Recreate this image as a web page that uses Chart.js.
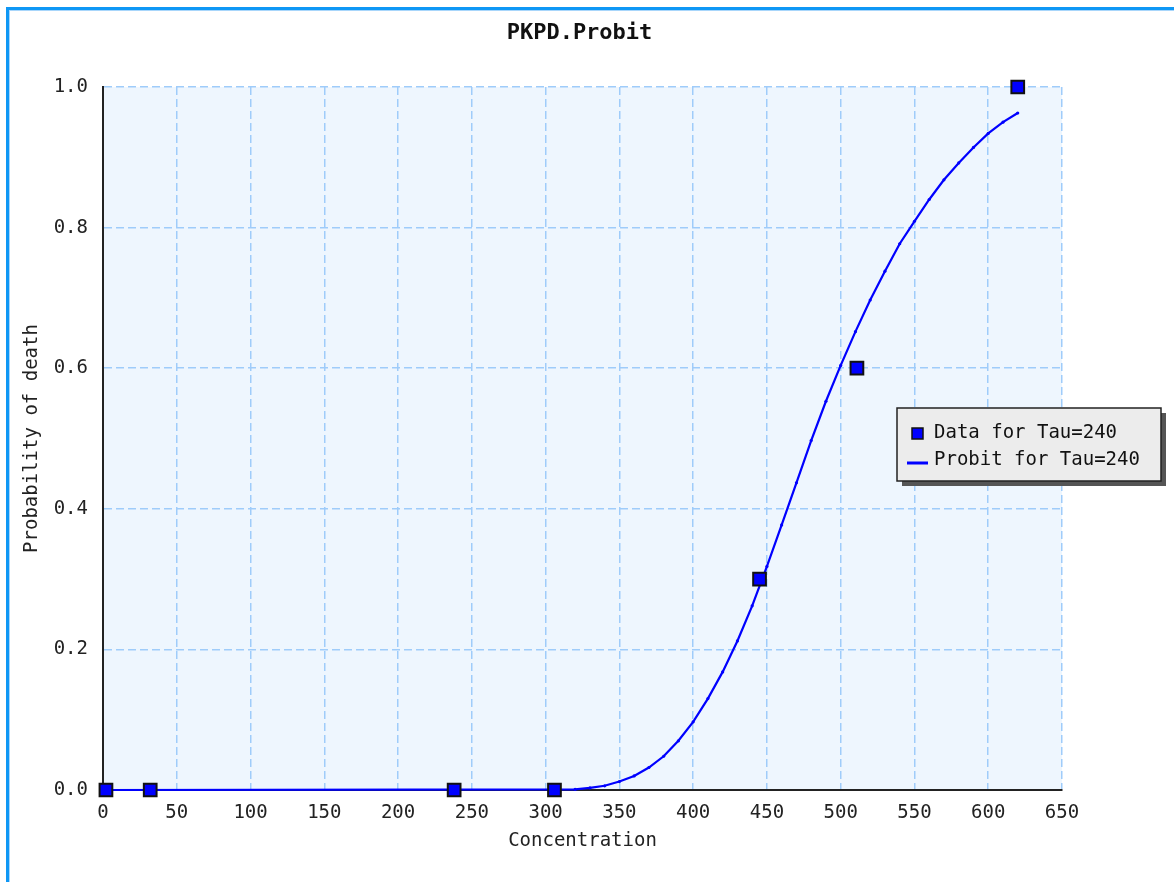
<!DOCTYPE html>
<html>
<head>
<meta charset="utf-8">
<script src="https://cdn.jsdelivr.net/npm/chart.js@4/dist/chart.umd.min.js"></script>
<style>
  html, body { margin: 0; padding: 0; background: #fff; overflow: hidden; }
  #wrap { position: absolute; left: 0; top: 0; width: 1174px; height: 882px; }
  #frame {
    position: absolute; left: 6px; top: 7px; width: 1300px; height: 1000px;
    border-left: 3px solid #0f97f5; border-top: 3px solid #0f97f5;
    box-shadow: inset 1px 1px 0 #a8d6fb;
  }
  canvas { position: absolute; left: 0; top: 0; }
</style>
</head>
<body>
<div id="wrap">
  <div id="frame"></div>
  <canvas id="chart" width="1174" height="882"></canvas>
</div>
<script>
const chartTitle = "PKPD.Probit";
const xTitle = "Concentration";
const yTitle = "Probability of death";

// observed data points
const dataLabel = "Data for Tau=240";
const dataConc = [2, 32, 238, 306, 445, 511, 620];
const dataProb = [0, 0, 0, 0, 0.3, 0.6, 1.0];

// fitted probit curve
const curveLabel = "Probit for Tau=240";
const curveConc = [0, 320, 330, 340, 350, 360, 370, 380, 390, 400, 410, 420, 430, 440, 450, 460,
  470, 480, 490, 500, 510, 520, 530, 540, 550, 560, 570, 580, 590, 600, 610, 620];
const curveProb = [0, 0.001, 0.003, 0.006, 0.012, 0.020, 0.032, 0.048, 0.070, 0.097, 0.130, 0.168,
  0.212, 0.262, 0.318, 0.377, 0.437, 0.497, 0.553, 0.604, 0.652, 0.697, 0.738, 0.777, 0.809, 0.840,
  0.868, 0.892, 0.914, 0.934, 0.950, 0.963];

const xTicks = { min: 0, max: 650, step: 50 };
const yTicks = { min: 0, max: 1, step: 0.2 };

const FONT = '"DejaVu Sans Mono", monospace';
const BLUE = "#0000ff";
const GRID = "#9fccfa";

const plotBackground = {
  id: "plotBackground",
  beforeDraw(chart) {
    const { ctx, chartArea: a } = chart;
    ctx.save();
    ctx.fillStyle = "#eef6fe";
    ctx.fillRect(a.left, a.top, a.right - a.left, a.bottom - a.top);
    ctx.restore();
  }
};

const titleAndLegend = {
  id: "titleAndLegend",
  afterDraw(chart) {
    const { ctx, chartArea: a } = chart;
    ctx.save();
    // title
    ctx.font = "bold 22px " + FONT;
    ctx.fillStyle = "#111";
    ctx.textAlign = "center";
    ctx.textBaseline = "middle";
    ctx.fillText(chartTitle, (a.left + a.right) / 2 - 3, 33);

    // legend box
    const bx = a.right - 165, by = a.top + 321, bw = 264, bh = 73;
    ctx.fillStyle = "#555";
    ctx.fillRect(bx + 5, by + 5, bw, bh);
    ctx.fillStyle = "#ececec";
    ctx.fillRect(bx, by, bw, bh);
    ctx.strokeStyle = "#222";
    ctx.lineWidth = 1.5;
    ctx.strokeRect(bx, by, bw, bh);

    ctx.font = "19px " + FONT;
    ctx.textAlign = "left";
    // row 1: data marker
    ctx.fillStyle = BLUE;
    ctx.fillRect(bx + 15, by + 20, 11, 11);
    ctx.strokeStyle = "#111";
    ctx.lineWidth = 1.5;
    ctx.strokeRect(bx + 15, by + 20, 11, 11);
    ctx.fillStyle = "#111";
    ctx.fillText(chart.data.datasets[0].label, bx + 37, by + 25);
    // row 2: curve line
    ctx.strokeStyle = BLUE;
    ctx.lineWidth = 3;
    ctx.beginPath();
    ctx.moveTo(bx + 10, by + 55);
    ctx.lineTo(bx + 31, by + 55);
    ctx.stroke();
    ctx.fillText(chart.data.datasets[1].label, bx + 37, by + 52);
    ctx.restore();
  }
};

new Chart(document.getElementById("chart"), {
  type: "scatter",
  data: {
    datasets: [
      {
        label: dataLabel,
        data: dataConc.map((x, i) => ({ x: x, y: dataProb[i] })),
        pointStyle: "rect",
        pointRadius: 9,
        pointHoverRadius: 9,
        backgroundColor: BLUE,
        borderColor: "#111",
        borderWidth: 2,
        showLine: false,
        clip: false
      },
      {
        label: curveLabel,
        data: curveConc.map((x, i) => ({ x: x, y: curveProb[i] })),
        showLine: true,
        borderColor: BLUE,
        backgroundColor: BLUE,
        borderWidth: 2.2,
        pointRadius: 1.6,
        pointBorderWidth: 0,
        tension: 0,
        clip: false
      }
    ]
  },
  options: {
    responsive: false,
    animation: false,
    layout: { padding: { left: 0, right: 112, top: 87, bottom: 0 } },
    plugins: {
      legend: { display: false },
      title: { display: false },
      tooltip: { enabled: false }
    },
    scales: {
      x: {
        type: "linear",
        min: xTicks.min,
        max: xTicks.max,
        afterFit(scale) { scale.height = 92; },
        ticks: {
          stepSize: xTicks.step,
          padding: 12,
          color: "#222",
          font: { family: FONT, size: 19 },
          maxRotation: 0
        },
        grid: { color: GRID, lineWidth: 1.5, drawTicks: false },
        border: { color: "#222", width: 2, dash: [8, 4] },
        title: {
          display: true,
          text: xTitle,
          color: "#222",
          font: { family: FONT, size: 19 },
          padding: { top: 0, bottom: 30 }
        }
      },
      y: {
        type: "linear",
        min: yTicks.min,
        max: yTicks.max,
        afterFit(scale) { scale.width = 103; },
        ticks: {
          stepSize: yTicks.step,
          padding: 15,
          color: "#222",
          font: { family: FONT, size: 19 },
          callback: (v) => v.toFixed(1)
        },
        grid: { color: GRID, lineWidth: 1.5, drawTicks: false },
        border: { color: "#222", width: 2, dash: [8, 4] },
        title: {
          display: true,
          text: yTitle,
          color: "#222",
          font: { family: FONT, size: 19 },
          padding: { top: 21, bottom: 0 }
        }
      }
    }
  },
  plugins: [plotBackground, titleAndLegend]
});
</script>
</body>
</html>
